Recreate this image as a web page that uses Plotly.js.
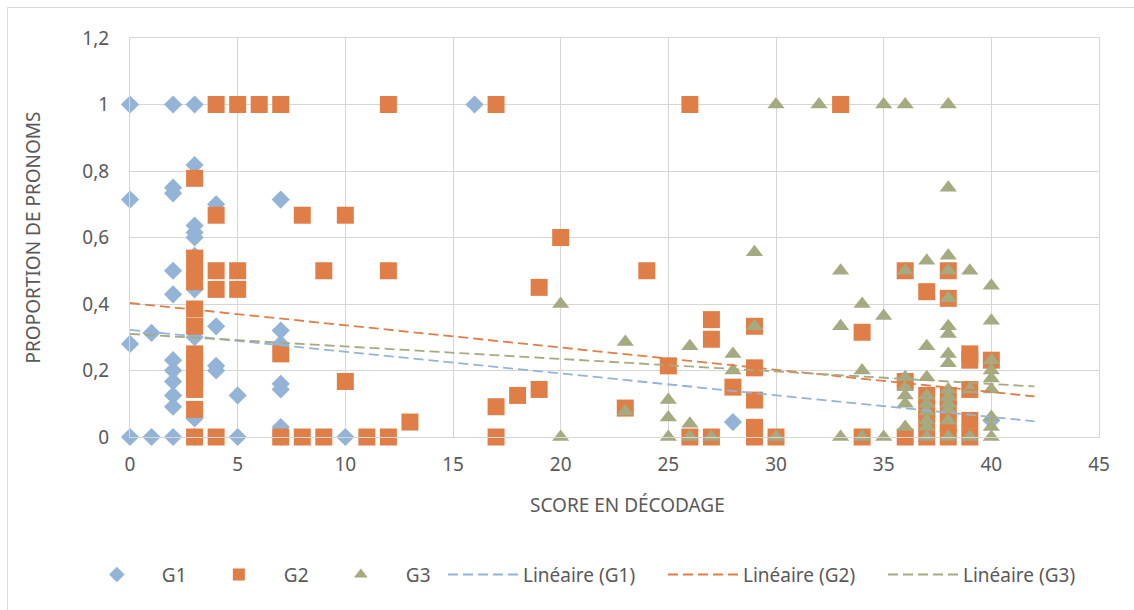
<!DOCTYPE html>
<html>
<head>
<meta charset="utf-8">
<script src="https://cdn.plot.ly/plotly-3.0.1.min.js"></script>
<style>
  html, body { margin: 0; padding: 0; background: #ffffff; }
  #chart { width: 1134px; height: 610px; }
  #frame { position: absolute; left: 7px; top: 7px; width: 1140px; height: 620px;
           border: 1.5px solid #d9d9d9; pointer-events: none; }
</style>
</head>
<body>
<div id="chart"></div>
<div id="frame"></div>
<script>
// ---- Data ----
const g1x = [0, 0, 0, 0,
             1, 1,
             2, 2, 2, 2, 2, 2, 2, 2, 2, 2, 2,
             3, 3, 3, 3, 3, 3, 3, 3, 3, 3,
             4, 4, 4, 4,
             5, 5,
             7, 7, 7, 7, 7, 7, 7,
             10, 16, 28, 38, 40];
const g1y = [1, 0.714, 0.28, 0,
             0.313, 0,
             1, 0.75, 0.733, 0.5, 0.429, 0.231, 0.2, 0.167, 0.125, 0.091, 0,
             1, 0.818, 0.636, 0.615, 0.6, 0.545, 0.444, 0.3, 0.056, 0,
             0.7, 0.333, 0.214, 0.2,
             0.125, 0,
             0.714, 0.32, 0.28, 0.16, 0.143, 0.03, 0,
             0, 1, 0.045, 0.1, 0.05];

const g2x = [3, 3, 3, 3, 3, 3, 3, 3, 3, 3, 3, 3, 3, 3,
             4, 4, 4, 4, 4,
             5, 5, 5,
             6,
             7, 7, 7,
             8, 8,
             9, 9,
             10, 10,
             11,
             12, 12, 12,
             13,
             17, 17, 17,
             18,
             19, 19,
             20,
             23,
             24,
             25,
             26, 26,
             27, 27, 27,
             28,
             29, 29, 29, 29, 29,
             30,
             33,
             34, 34,
             36, 36, 36,
             37, 37, 37, 37, 37,
             38, 38, 38, 38, 38, 38,
             39, 39, 39, 39, 39,
             40];
const g2y = [0.778, 0.538, 0.5, 0.467, 0.385, 0.333, 0.25, 0.222, 0.2, 0.182, 0.167, 0.143, 0.083, 0,
             1, 0.667, 0.5, 0.444, 0,
             1, 0.5, 0.444,
             1,
             1, 0.25, 0,
             0.667, 0,
             0.5, 0,
             0.667, 0.167,
             0,
             1, 0.5, 0,
             0.045,
             1, 0.091, 0,
             0.125,
             0.45, 0.143,
             0.6,
             0.087,
             0.5,
             0.214,
             1, 0,
             0.353, 0.294, 0,
             0.15,
             0.333, 0.208, 0.111, 0.029, 0,
             0,
             1,
             0.315, 0,
             0.5, 0.167, 0,
             0.437, 0.125, 0.083, 0.05, 0,
             0.5, 0.417, 0.125, 0.083, 0.04, 0,
             0.25, 0.231, 0.143, 0.05, 0,
             0.231];

const g3x = [20, 20,
             23, 23,
             25, 25, 25,
             26, 26, 26,
             27,
             28, 28,
             29, 29,
             30, 30,
             32,
             33, 33, 33,
             34, 34, 34,
             35, 35, 35,
             36, 36, 36, 36, 36, 36, 36,
             37, 37, 37, 37, 37, 37, 37, 37, 37,
             38, 38, 38, 38, 38, 38, 38, 38, 38, 38, 38, 38, 38, 38, 38,
             39, 39, 39,
             40, 40, 40, 40, 40, 40, 40, 40, 40];
const g3y = [0.4, 0,
             0.286, 0.077,
             0.111, 0.059, 0,
             0.273, 0.04, 0,
             0,
             0.25, 0.2,
             0.556, 0.333,
             1, 0,
             1,
             0.5, 0.333, 0,
             0.4, 0.2, 0,
             1, 0.364, 0,
             1, 0.5, 0.18, 0.15, 0.125, 0.1, 0.03,
             0.53, 0.273, 0.18, 0.125, 0.1, 0.077, 0.05, 0.03, 0,
             1, 0.75, 0.545, 0.5, 0.417, 0.333, 0.31, 0.25, 0.222, 0.143, 0.12, 0.1, 0.083, 0.05, 0,
             0.5, 0.143, 0,
             0.455, 0.35, 0.231, 0.2, 0.176, 0.143, 0.06, 0.03, 0];

// Linear trend lines (start and end of each line)
const trendX  = [0, 42];
const trendG1 = [0.322, 0.047];
const trendG2 = [0.403, 0.122];
const trendG3 = [0.31, 0.152];

const xTicks = [0, 5, 10, 15, 20, 25, 30, 35, 40, 45];
const yTicks = [0, 0.2, 0.4, 0.6, 0.8, 1, 1.2];
const xTitle = 'SCORE EN DÉCODAGE';
const yTitle = 'PROPORTION DE PRONOMS';

// ---- Styles ----
const cBlue = '#93b3d7', cOrange = '#e07e47', cGreen = '#a5aa80';
const font = 'Noto Sans, Open Sans, sans-serif';
const gray = '#595959';
const fs = 19;

const traces = [
  {x: g1x, y: g1y, name: 'G1', type: 'scatter', mode: 'markers', cliponaxis: false,
   marker: {symbol: 'diamond', size: 14, color: cBlue}, legend: 'legend'},
  {x: g2x, y: g2y, name: 'G2', type: 'scatter', mode: 'markers', cliponaxis: false,
   marker: {symbol: 'square', size: 17, color: cOrange}, legend: 'legend'},
  {x: g3x, y: g3y, name: 'G3', type: 'scatter', mode: 'markers', cliponaxis: false,
   marker: {symbol: 'triangle-up', size: 15, color: cGreen}, legend: 'legend'},
  {x: trendX, y: trendG1, name: 'Linéaire (G1)', type: 'scatter', mode: 'lines',
   line: {color: cBlue, width: 1.8, dash: '10px,5px'}, legend: 'legend2'},
  {x: trendX, y: trendG2, name: 'Linéaire (G2)', type: 'scatter', mode: 'lines',
   line: {color: cOrange, width: 1.8, dash: '10px,5px'}, legend: 'legend2'},
  {x: trendX, y: trendG3, name: 'Linéaire (G3)', type: 'scatter', mode: 'lines',
   line: {color: cGreen, width: 1.8, dash: '10px,5px'}, legend: 'legend2'}
];

const layout = {
  width: 1134, height: 610,
  margin: {l: 130, r: 35, t: 38, b: 173},
  paper_bgcolor: '#ffffff', plot_bgcolor: '#ffffff',
  separators: ', ',
  font: {family: font, size: fs, color: gray},
  showlegend: true,
  xaxis: {
    range: [0, 45], tickmode: 'array', tickvals: xTicks,
    showgrid: true, gridcolor: '#d6d6d6', gridwidth: 1,
    zeroline: false, showline: true, mirror: true, linecolor: '#d6d6d6', linewidth: 1,
    ticks: '', ticklabelstandoff: 10,
    tickfont: {family: font, size: fs, color: gray}
  },
  yaxis: {
    range: [0, 1.2], tickmode: 'array', tickvals: yTicks,
    showgrid: true, gridcolor: '#d6d6d6', gridwidth: 1,
    zeroline: false, showline: true, mirror: true, linecolor: '#d6d6d6', linewidth: 1,
    ticks: '', ticklabelstandoff: 16,
    tickfont: {family: font, size: fs, color: gray},
    title: {text: yTitle, standoff: 36, font: {family: font, size: fs, color: gray}}
  },
  annotations: [
    {text: xTitle, xref: 'paper', yref: 'paper', x: 0.513, y: -0.17,
     xanchor: 'center', yanchor: 'middle', showarrow: false,
     font: {family: font, size: fs, color: gray}}
  ],
  legend: {
    orientation: 'h', x: -0.06, xanchor: 'left', y: -0.345, yanchor: 'middle',
    itemwidth: 80, itemsizing: 'constant', entrywidth: 27, entrywidthmode: 'pixels',
    font: {family: font, size: fs, color: gray}, bgcolor: 'rgba(0,0,0,0)'
  },
  legend2: {
    orientation: 'h', x: 0.323, xanchor: 'left', y: -0.345, yanchor: 'middle',
    itemwidth: 70, entrywidth: 135, entrywidthmode: 'pixels',
    font: {family: font, size: fs, color: gray}, bgcolor: 'rgba(0,0,0,0)'
  }
};

Plotly.newPlot('chart', traces, layout, {displayModeBar: false, staticPlot: true});
</script>
</body>
</html>
